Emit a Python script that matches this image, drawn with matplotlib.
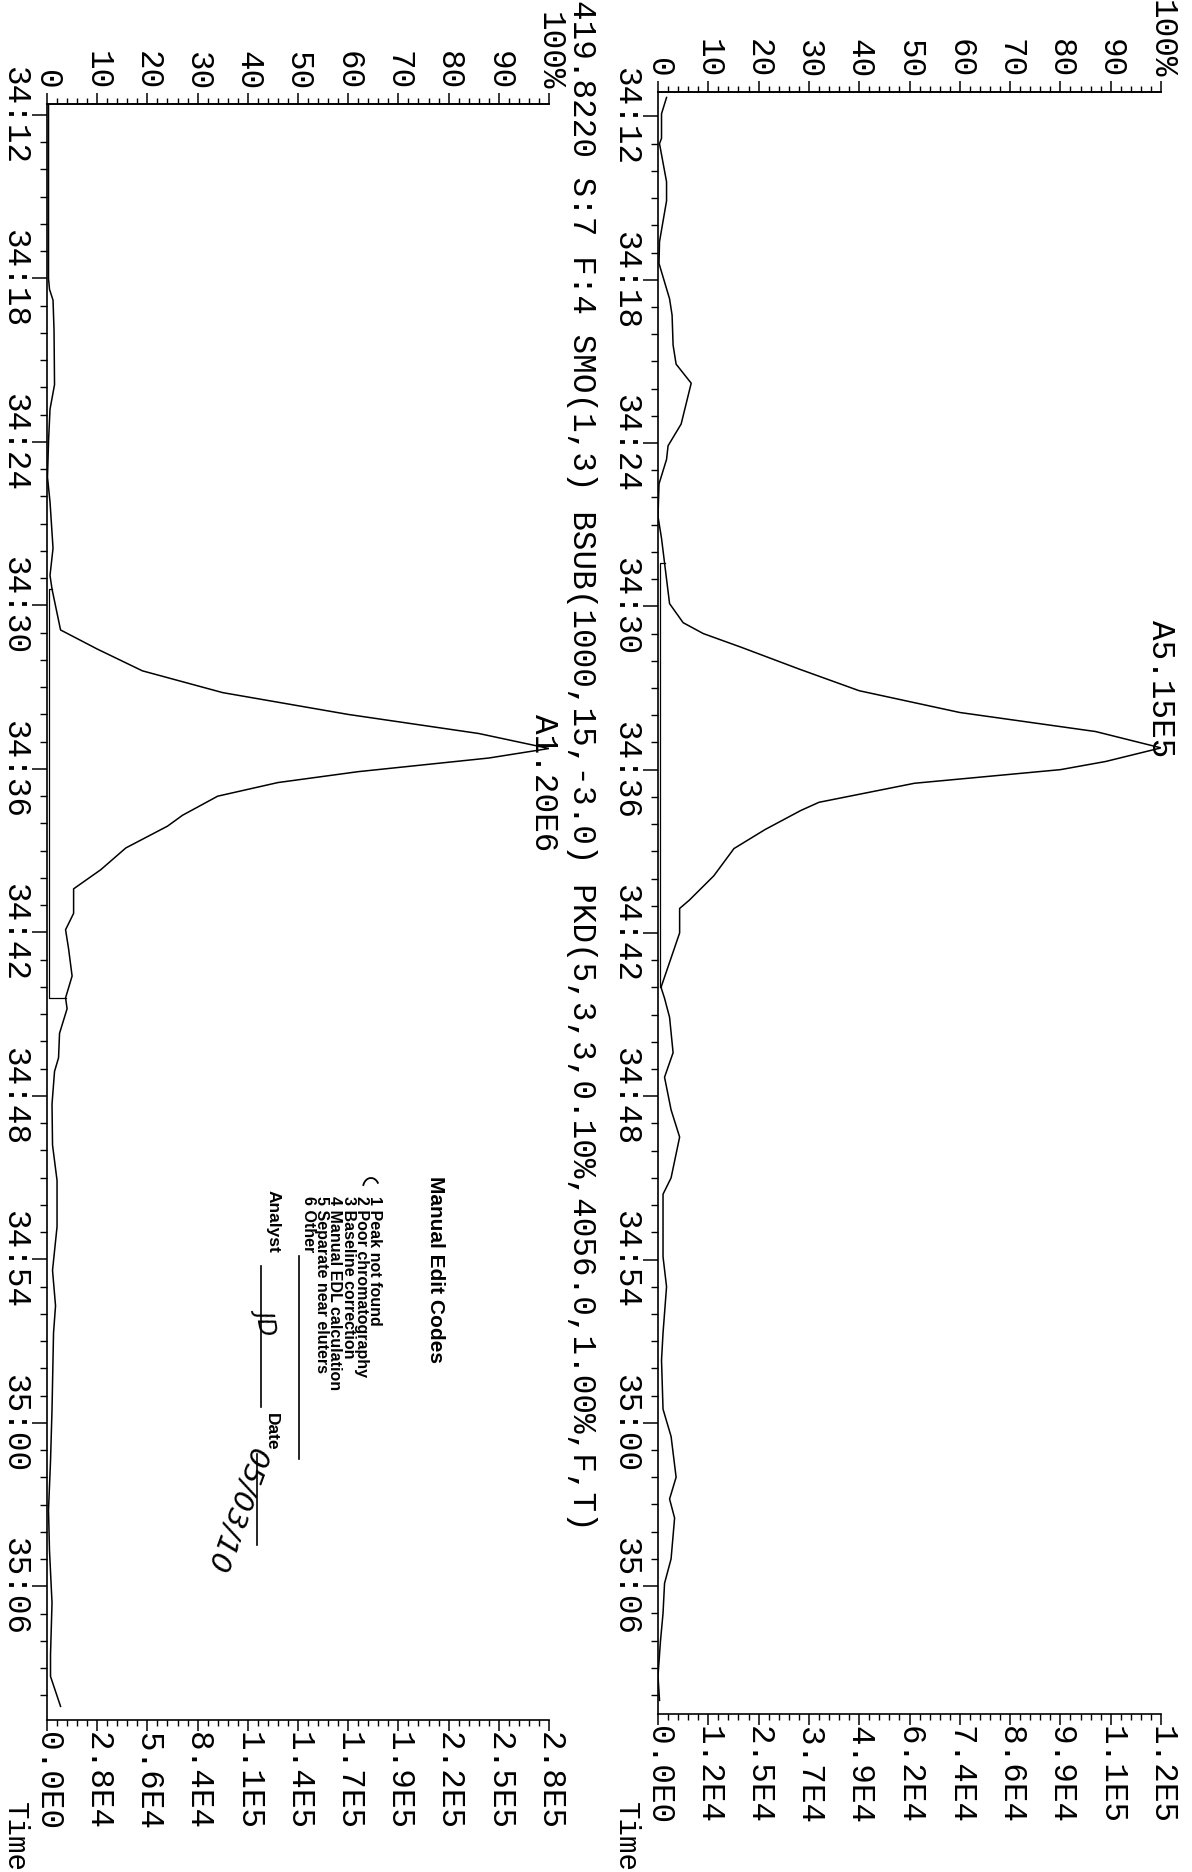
import numpy as np
import matplotlib.pyplot as plt
from matplotlib.ticker import FixedLocator, MultipleLocator

W, H = 1192, 1872
DPI = 100
MONO = "Liberation Mono"
FS = 23.5

# retention time in seconds after 34:00, intensity in % of panel full scale
t_top = [11.3, 11.9, 12.8, 13.0, 14.4, 15.1, 16.6, 17.4, 18.7, 19.3, 20.4, 21.1,
         21.8, 23.3, 24.1, 24.6, 25.5, 26.7, 27.5, 28.4, 29.9, 30.6, 31.0, 31.5,
         32.3, 33.1, 33.9, 34.6, 35.2, 35.7, 36.0, 36.5, 37.2, 37.5, 38.2, 38.9,
         39.9, 40.8, 41.1, 42.0, 44.0, 44.4, 45.1, 46.4, 47.3, 48.5, 49.5, 51.0,
         51.6, 53.9, 55.0, 56.7, 57.7, 59.5, 60.5, 62.0, 62.8, 63.5, 65.0, 65.9,
         67.0, 68.0, 69.3, 70.2]
pct_top = [1.7, 0.7, 0.7, 0.3, 1.7, 1.7, 0.3, 0.2, 2.3, 2.8, 3.0, 3.6,
           6.6, 4.6, 2.0, 1.7, 0.2, 0.0, 0.7, 1.3, 2.3, 5.0, 9.0, 16.5,
           28.0, 40.0, 60.0, 87.0, 100.0, 89.0, 80.0, 51.0, 32.0, 28.4, 21.3, 15.1,
           11.1, 6.2, 4.3, 4.3, 0.6, 1.3, 2.3, 3.0, 1.3, 2.6, 4.3, 2.6,
           1.0, 1.0, 1.7, 1.0, 0.7, 1.0, 2.6, 3.6, 2.3, 3.3, 2.6, 1.3,
           1.0, 0.5, 0.0, 0.3]

t_bot = [11.5, 18.0, 18.4, 18.8, 19.9, 21.9, 22.8, 24.0, 25.3, 26.2, 27.9, 28.9,
         29.4, 30.9, 31.6, 32.4, 33.2, 34.0, 34.7, 35.25, 35.6, 36.1, 36.5, 37.0,
         37.7, 38.1, 38.9, 39.7, 40.4, 41.3, 41.9, 42.6, 43.6, 44.4, 44.8, 45.7, 46.6,
         47.1, 48.3, 49.8, 51.1, 52.8, 54.4, 55.7, 56.7, 59.5, 61.4, 63.2, 64.7,
         66.6, 68.5, 69.3, 70.4]
pct_bot = [0.3, 0.3, 0.5, 1.2, 1.4, 1.5, 0.6, 0.3, 0.1, 0.6, 1.2, 0.6,
           1.0, 2.7, 10.0, 19.0, 35.0, 60.0, 86.0, 100.0, 88.0, 62.0, 46.0, 34.0,
           27.0, 24.0, 15.7, 10.7, 5.3, 5.3, 3.7, 4.3, 5.0, 3.7, 4.0, 2.5, 2.3,
           1.5, 1.0, 1.1, 2.0, 2.0, 1.1, 1.7, 1.3, 1.0, 0.7, 0.3, 0.5,
           1.0, 0.7, 0.7, 2.7]

# integration baselines (start, end) and level
base_top = [28.4, 44.0]
base_top_pct = 0.3
base_bot = [29.4, 44.4]
base_bot_pct = 0.4

time_ticks = [12, 18, 24, 30, 36, 42, 48, 54, 60, 66]
time_labels = ["34:12", "34:18", "34:24", "34:30", "34:36", "34:42",
               "34:48", "34:54", "35:00", "35:06"]
pct_ticks = [0, 10, 20, 30, 40, 50, 60, 70, 80, 90, 100]
pct_labels = ["0", "10", "20", "30", "40", "50", "60", "70", "80", "90", "100%"]
abs_top = ["0.0E0", "1.2E4", "2.5E4", "3.7E4", "4.9E4", "6.2E4", "7.4E4",
           "8.6E4", "9.9E4", "1.1E5", "1.2E5"]
abs_bot = ["0.0E0", "2.8E4", "5.6E4", "8.4E4", "1.1E5", "1.4E5", "1.7E5",
           "1.9E5", "2.2E5", "2.5E5", "2.8E5"]
peak_top = "A5.15E5"
peak_bot = "A1.20E6"
header = "419.8220 S:7 F:4 SMO(1,3) BSUB(1000,15,-3.0) PKD(5,3,3,0.10%,4056.0,1.00%,F,T)"
edit_title = "Manual Edit Codes"
edit_codes = ["1 Peak not found", "2 Poor chromatography", "3 Baseline correction",
              "4 Manual EDL calculation", "5 Separate near eluters", "6 Other"]

fig = plt.figure(figsize=(W / DPI, H / DPI), dpi=DPI)
fig.patch.set_facecolor("white")


def panel(left, top, right, bottom, t0, t1, t, pct, base, base_pct, abs_labels,
          peak_label, peak_off, time_x):
    ax = fig.add_axes([left / W, 1 - bottom / H, (right - left) / W, (bottom - top) / H])
    ax.set_facecolor("none")
    ax.plot(pct, t, color="black", lw=1.1)
    # baseline drawn under the peak
    i0 = int(np.argmin(np.abs(np.array(t) - base[0])))
    i1 = int(np.argmin(np.abs(np.array(t) - base[1])))
    ax.plot([pct[i0], base_pct, base_pct, pct[i1]], [base[0], base[0], base[1], base[1]],
            color="black", lw=0.9)
    ax.set_xlim(0, 100)
    ax.set_ylim(t1, t0)
    ax.spines["right"].set_visible(False)
    for s in ["left", "top", "bottom"]:
        ax.spines[s].set_linewidth(1.2)

    ax.yaxis.set_major_locator(FixedLocator(time_ticks))
    ax.yaxis.set_minor_locator(MultipleLocator(1))
    ax.set_yticklabels(time_labels, rotation=270, va="center", ha="right",
                       family=MONO, fontsize=FS)
    ax.tick_params(axis="y", which="major", length=11, width=1.1, pad=1, direction="out")
    ax.tick_params(axis="y", which="minor", length=5, width=1.0, direction="out")

    ax.xaxis.set_major_locator(FixedLocator(pct_ticks))
    ax.xaxis.set_minor_locator(MultipleLocator(2))
    ax.set_xticklabels(abs_labels, rotation=270, ha="center", va="top",
                       family=MONO, fontsize=FS)
    ax.tick_params(axis="x", which="major", length=8, width=1.1, pad=1, direction="out")
    ax.tick_params(axis="x", which="minor", length=4, width=1.0, direction="out")

    sec = ax.secondary_xaxis("top")
    sec.xaxis.set_major_locator(FixedLocator(pct_ticks))
    sec.xaxis.set_minor_locator(MultipleLocator(2))
    sec.set_xticklabels(pct_labels, rotation=270, ha="center", va="bottom",
                        family=MONO, fontsize=FS)
    sec.tick_params(axis="x", which="major", length=8, width=1.1, pad=2, direction="out")
    sec.tick_params(axis="x", which="minor", length=4, width=1.0, direction="out")
    sec.spines["top"].set_linewidth(1.2)

    k = int(np.argmax(pct))
    ax.annotate(peak_label, xy=(pct[k], t[k]), xytext=peak_off,
                textcoords="offset points", rotation=270, ha="center", va="top",
                family=MONO, fontsize=FS, annotation_clip=False)
    # axis title sits under the time-label column
    fig.text(time_x / W, 1 - 1802 / H, "Time", rotation=270, ha="center",
             va="top", family=MONO, fontsize=21)
    return ax


# right panel = first trace, left panel = second trace
ax_r = panel(658, 92, 1161, 1714, 11.1, 70.7, t_top, pct_top, base_top, base_top_pct,
             abs_top, peak_top, (0, 92), 626)
ax_l = panel(47, 104, 549, 1720, 11.6, 70.9, t_bot, pct_bot, base_bot, base_bot_pct,
             abs_bot, peak_bot, (-4, 25), 15)

# page overlay in pixel units for the printed header and the edit stamp
ov = fig.add_axes([0, 0, 1, 1], zorder=-1)
ov.set_xlim(0, W)
ov.set_ylim(H, 0)
ov.axis("off")

ov.text(581, 0, header, rotation=270, ha="center", va="top", family=MONO, fontsize=FS)

SANS = ["Liberation Sans Narrow", "Liberation Sans"]
ov.text(436, 1176, edit_title, rotation=270, ha="center", va="top", family=SANS,
        fontsize=15, fontweight="bold")
code_x = [374, 361, 348, 335, 322, 309]
for x, s in zip(code_x, edit_codes):
    ov.text(x, 1196, s, rotation=270, ha="center", va="top", family=SANS,
            fontsize=11.5, fontweight="bold")
ov.plot([299, 299], [1256, 1459], color="black", lw=1.2)
ov.text(273, 1190, "Analyst", rotation=270, ha="center", va="top", family=SANS,
        fontsize=12.5, fontweight="bold")
ov.plot([261, 261], [1266, 1407], color="black", lw=1.2)
ov.text(271, 1413, "Date", rotation=270, ha="center", va="top", family=SANS,
        fontsize=12.5, fontweight="bold")
ov.plot([257, 257], [1454, 1545], color="black", lw=1.2)

# handwritten marks
a = np.linspace(0.3, 2.6, 30)
ov.plot(371 - 8 * np.cos(a), 1188 - 10 * np.sin(a), color="black", lw=1.3)
ov.text(268, 1320, "JD", rotation=280, ha="center", va="center",
        family="DejaVu Sans", fontstyle="italic", fontsize=17, color="black")
ov.text(236, 1510, "05/03/10", rotation=250, ha="center", va="center",
        family="DejaVu Sans", fontstyle="italic", fontsize=21, color="black")

fig.savefig("out.png", dpi=DPI, facecolor="white")
